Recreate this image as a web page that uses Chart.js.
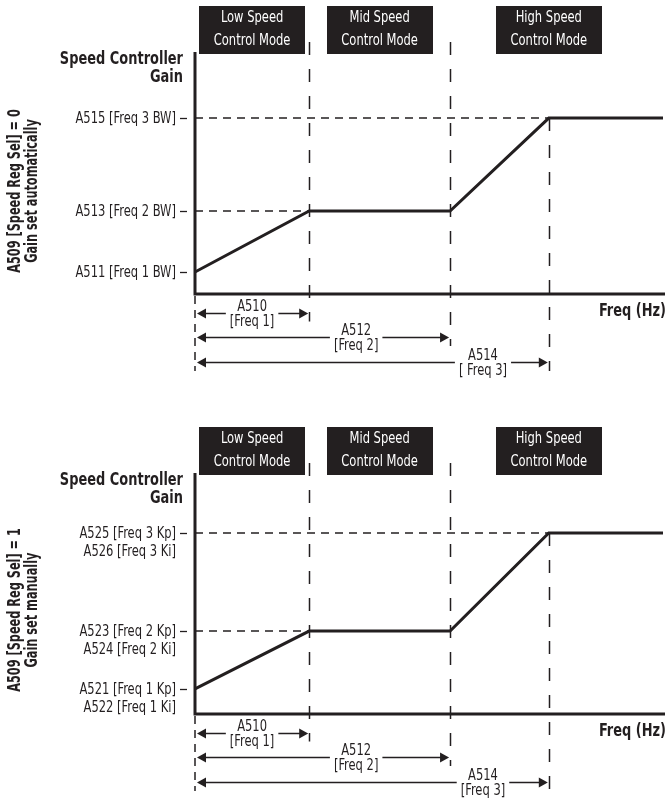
<!DOCTYPE html>
<html><head><meta charset="utf-8">
<script src="https://cdn.jsdelivr.net/npm/chart.js@4.4.1/dist/chart.umd.min.js"></script>
<style>
html,body{margin:0;padding:0;background:#fff;}
#wrap{position:relative;width:667px;height:798px;overflow:hidden;}
canvas{position:absolute;left:0;}
</style></head><body>
<div id="wrap">
<canvas id="c1" width="667" height="400" style="top:0px"></canvas>
<canvas id="c2" width="667" height="379" style="top:419px"></canvas>
</div>
<script>
// ---- data ----
const freqBreaks = [0, 24.4, 54.5, 75.6, 100];
const gainAuto = [9.1, 34.3, 34.3, 72.7, 72.7];
const gainManual = [10.4, 34.4, 34.4, 75.1, 75.1];
const modeNames = [["Low Speed","Control Mode"],["Mid Speed","Control Mode"],["High Speed","Control Mode"]];
const levelLabelsAuto = [["A511 [Freq 1 BW]"],["A513 [Freq 2 BW]"],["A515 [Freq 3 BW]"]];
const levelLabelsManual = [["A521 [Freq 1 Kp]","A522 [Freq 1 Ki]"],["A523 [Freq 2 Kp]","A524 [Freq 2 Ki]"],["A525 [Freq 3 Kp]","A526 [Freq 3 Ki]"]];
const freqLabelsAuto = [["A510","[Freq 1]"],["A512","[Freq 2]"],["A514","[ Freq 3]"]];
const freqLabelsManual = [["A510","[Freq 1]"],["A512","[Freq 2]"],["A514","[Freq 3]"]];
const sideTitleAuto = ["A509 [Speed Reg Sel] = 0","Gain set automatically"];
const sideTitleManual = ["A509 [Speed Reg Sel] = 1","Gain set manually"];
const yTitle = ["Speed Controller","Gain"];
const xTitle = "Freq (Hz)";

// ---- style ----
const INK = '#231f20';
const FAM = '"Liberation Sans Narrow","Arial Narrow","DejaVu Sans Condensed",sans-serif';
const F_REG = '16px ' + FAM;
const F_BOLD = 'bold 18px ' + FAM;
const F_SIDE = 'bold 17px ' + FAM;
const SX = 0.8;
const ARROW_ROWS = [18.5, 43, 68];

function txt(ctx, s, x, y, sx) {
  ctx.save(); ctx.translate(x, y); ctx.scale(sx, 1); ctx.fillText(s, 0, 0); ctx.restore();
}

function diagramPlugin(cfg) {
  return {
    id: 'diagram',
    beforeDatasetsDraw(chart) {
      const ctx = chart.ctx, xs = chart.scales.x, ys = chart.scales.y, a = chart.chartArea;
      ctx.save();
      ctx.strokeStyle = INK; ctx.lineWidth = 1.5; ctx.setLineDash([13, 14]);
      for (let i = 1; i <= 3; i++) {
        const x = Math.round(xs.getPixelForValue(freqBreaks[i])) + 0.5;
        const yTop = (i === 3) ? ys.getPixelForValue(cfg.gain[3]) : a.top - 10;
        const yBot = a.bottom + ARROW_ROWS[i - 1] + 9;
        ctx.beginPath(); ctx.moveTo(x, yTop); ctx.lineTo(x, yBot); ctx.stroke();
      }
      const x0 = xs.getPixelForValue(freqBreaks[0]);
      ctx.setLineDash([8, 6]);
      ctx.beginPath(); ctx.moveTo(x0, a.bottom + 2); ctx.lineTo(x0, a.bottom + ARROW_ROWS[2] + 9); ctx.stroke();
      ctx.restore();
    },
    afterDatasetsDraw(chart) {
      const ctx = chart.ctx, xs = chart.scales.x, ys = chart.scales.y, a = chart.chartArea;
      const x0 = xs.getPixelForValue(freqBreaks[0]);
      ctx.save();
      ctx.strokeStyle = INK; ctx.lineWidth = 3; ctx.setLineDash([]);
      ctx.beginPath(); ctx.moveTo(x0, a.top); ctx.lineTo(x0, a.bottom); ctx.lineTo(a.right + 2, a.bottom); ctx.stroke();

      const levels = [cfg.gain[0], cfg.gain[1], cfg.gain[3]];
      ctx.lineWidth = 1.3;
      ctx.fillStyle = INK; ctx.font = F_REG; ctx.textAlign = 'right'; ctx.textBaseline = 'middle';
      levels.forEach((v, i) => {
        const y = Math.round(ys.getPixelForValue(v)) + 0.5;
        ctx.beginPath(); ctx.moveTo(x0 - 15, y); ctx.lineTo(x0 - 8, y); ctx.stroke();
        cfg.levelLabels[i].forEach((t, k) => txt(ctx, t, x0 - 19, y + k * 18.5, SX));
      });

      ctx.font = F_BOLD;
      txt(ctx, yTitle[0], x0 - 12, a.top + 7, SX);
      txt(ctx, yTitle[1], x0 - 12, a.top + 25, SX);
      txt(ctx, xTitle, a.right + 3, a.bottom + 17, SX);

      const centers = [
        (freqBreaks[0] + freqBreaks[1]) / 2,
        (freqBreaks[1] + freqBreaks[2]) / 2,
        freqBreaks[3]
      ];
      ctx.textAlign = 'center';
      centers.forEach((c, i) => {
        const cx = xs.getPixelForValue(c);
        ctx.fillStyle = INK;
        ctx.fillRect(Math.round(cx - 53), a.top - 46, 106, 48);
        ctx.fillStyle = '#ffffff'; ctx.font = F_REG;
        txt(ctx, modeNames[i][0], cx, a.top - 34, SX);
        txt(ctx, modeNames[i][1], cx, a.top - 11, SX);
      });

      ctx.fillStyle = INK; ctx.strokeStyle = INK; ctx.lineWidth = 1.5; ctx.font = F_REG;
      for (let i = 0; i < 3; i++) {
        const x1 = xs.getPixelForValue(freqBreaks[i + 1]);
        const y = Math.round(a.bottom + ARROW_ROWS[i]) + 0.5;
        const lines = cfg.freqLabels[i];
        const cx = (i === 0) ? (x0 + x1) / 2
          : xs.getPixelForValue(freqBreaks[i] + (freqBreaks[i + 1] - freqBreaks[i]) / 3);
        const w = Math.max(...lines.map(t => ctx.measureText(t).width)) * SX;
        const gl = cx - w / 2 - 4, gr = cx + w / 2 + 4;
        ctx.beginPath();
        ctx.moveTo(x0 + 8, y); ctx.lineTo(gl, y);
        ctx.moveTo(gr, y); ctx.lineTo(x1 - 8, y);
        ctx.stroke();
        ctx.beginPath();
        ctx.moveTo(x0 + 2, y); ctx.lineTo(x0 + 11, y - 5); ctx.lineTo(x0 + 11, y + 5); ctx.closePath(); ctx.fill();
        ctx.beginPath();
        ctx.moveTo(x1 - 1, y); ctx.lineTo(x1 - 10, y - 5); ctx.lineTo(x1 - 10, y + 5); ctx.closePath(); ctx.fill();
        txt(ctx, lines[0], cx, y - 7, SX);
        txt(ctx, lines[1], cx, y + 8, SX);
      }

      ctx.font = F_SIDE; ctx.textAlign = 'center';
      ctx.translate(16, 191);
      ctx.rotate(-Math.PI / 2);
      txt(ctx, cfg.side[0], 0, 0, 0.74);
      txt(ctx, cfg.side[1], 0, 17, 0.74);
      ctx.restore();
    }
  };
}

function makeChart(id, cfg, pad) {
  const pts = freqBreaks.map((f, i) => ({ x: f, y: cfg.gain[i] }));
  const ref2 = [{ x: freqBreaks[0], y: cfg.gain[1] }, { x: freqBreaks[1], y: cfg.gain[1] }];
  const ref3 = [{ x: freqBreaks[0], y: cfg.gain[3] }, { x: freqBreaks[3], y: cfg.gain[3] }];
  const dashed = { borderColor: INK, borderWidth: 1.5, borderDash: [8, 6], pointRadius: 0, fill: false, clip: false, tension: 0 };
  return new Chart(document.getElementById(id), {
    type: 'line',
    data: {
      datasets: [
        Object.assign({ label: 'ref2', data: ref2 }, dashed),
        Object.assign({ label: 'ref3', data: ref3 }, dashed),
        { label: 'gain', data: pts, borderColor: INK, borderWidth: 3, pointRadius: 0, fill: false, tension: 0, clip: false, borderCapStyle: 'butt', borderJoinStyle: 'miter' }
      ]
    },
    options: {
      responsive: false, animation: false, devicePixelRatio: 1, events: [],
      layout: { padding: pad },
      plugins: { legend: { display: false }, tooltip: { enabled: false } },
      scales: {
        x: { type: 'linear', min: 0, max: 100, display: false },
        y: { type: 'linear', min: 0, max: 100, display: false }
      }
    },
    plugins: [diagramPlugin(cfg)]
  });
}

makeChart('c1', { gain: gainAuto, levelLabels: levelLabelsAuto, freqLabels: freqLabelsAuto, side: sideTitleAuto },
  { left: 195, right: 4, top: 52, bottom: 106 });
makeChart('c2', { gain: gainManual, levelLabels: levelLabelsManual, freqLabels: freqLabelsManual, side: sideTitleManual },
  { left: 195, right: 4, top: 54, bottom: 84 });
</script>
</body></html>
